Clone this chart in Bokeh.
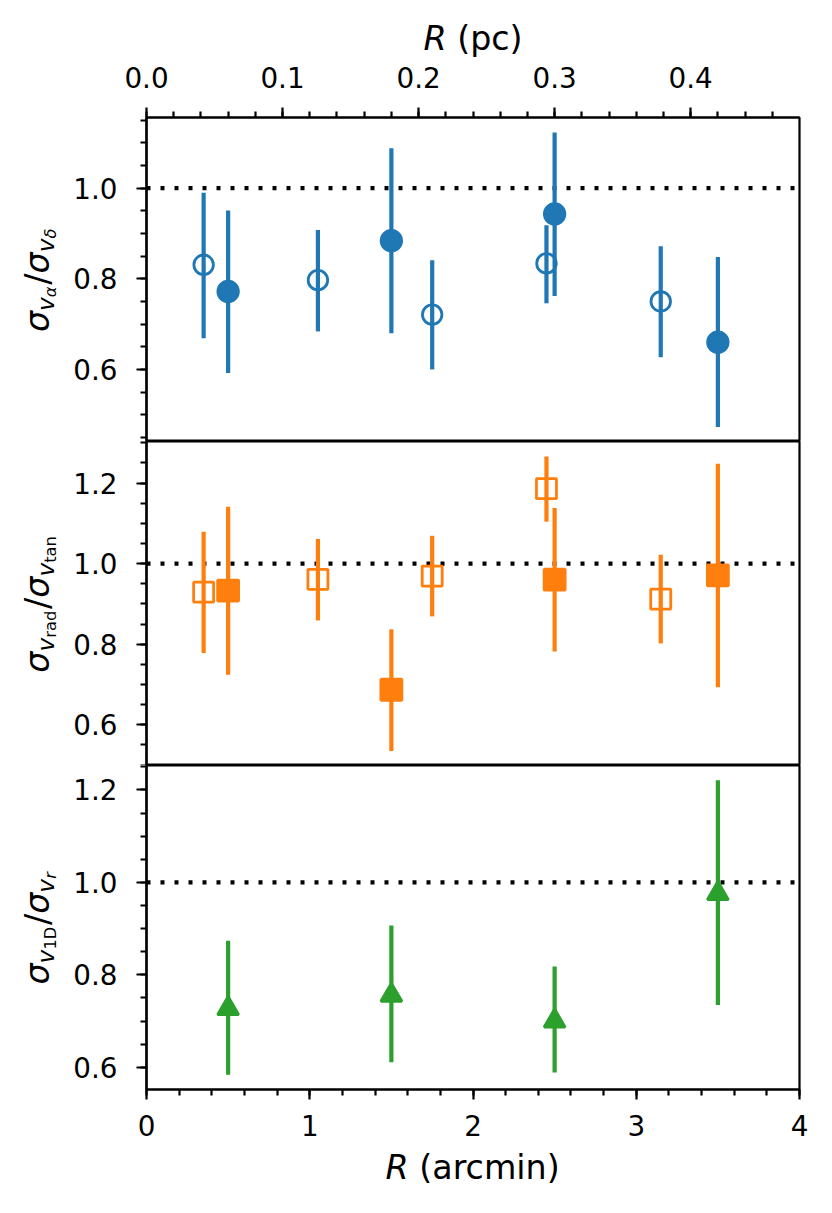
import math
from bokeh.plotting import figure
from bokeh.models import (Range1d, LinearAxis, SingleIntervalTicker, Span,
                          PrintfTickFormatter)
from bokeh.core.properties import value
from bokeh.layouts import column, row
from bokeh.embed import file_html
from bokeh.resources import INLINE

# ---------------- data ----------------
r_open = [0.35, 1.05, 1.75, 2.45, 3.15]      # arcmin, open symbols
r_filled = [0.5, 1.5, 2.5, 3.5]              # arcmin, filled symbols

ad_open = [0.831, 0.797, 0.721, 0.834, 0.750]
ad_open_lo = [0.669, 0.684, 0.600, 0.746, 0.627]
ad_open_hi = [0.990, 0.908, 0.841, 0.918, 0.872]
ad_filled = [0.772, 0.884, 0.943, 0.660]
ad_filled_lo = [0.592, 0.680, 0.762, 0.473]
ad_filled_hi = [0.951, 1.088, 1.123, 0.848]

rt_open = [0.929, 0.961, 0.969, 1.186, 0.912]
rt_open_lo = [0.778, 0.859, 0.869, 1.104, 0.802]
rt_open_hi = [1.079, 1.061, 1.069, 1.266, 1.022]
rt_filled = [0.933, 0.687, 0.960, 0.971]
rt_filled_lo = [0.724, 0.535, 0.782, 0.693]
rt_filled_hi = [1.141, 0.837, 1.138, 1.248]

oned = [0.727, 0.756, 0.700, 0.976]
oned_lo = [0.584, 0.611, 0.589, 0.735]
oned_hi = [0.874, 0.907, 0.818, 1.221]

x_range_arcmin = (0.0, 4.0)
pc_per_arcmin = 0.12
y_range_1 = (0.441, 1.156)
y_range_2 = (0.499, 1.303)
y_range_3 = (0.552, 1.253)

# ---------------- style / layout ----------------
BLUE, ORANGE, GREEN = "#1f77b4", "#ff7f0e", "#2ca02c"
FONT = "DejaVu Sans"
FW, FH = 653, 324
LW_LAB = 70          # left label strip width
BL = 75              # left border of the panels (axis + ticks)
BR = 20
TOP_H = 58           # strip with the top axis title
P1_TOP = 59
P3_BOT = 60
BOT_H = 50
TICK_FS = "27.8px"
L, S, SS = 33.3, 23.3, 16.3
ELW = 4.2
SPINE = 2.2
MID = 0.346          # (ascent - descent)/2 of DejaVu Sans, in em

TOTAL_H = TOP_H + P1_TOP + 3 * FH + P3_BOT + BOT_H
PPU_X = FW / (x_range_arcmin[1] - x_range_arcmin[0])

# DejaVu Sans advance widths (em)
ADV = {"σ": 0.635, "v": 0.592, "α": 0.659, "δ": 0.612, "/": 0.337, "r": 0.411,
       "a": 0.613, "d": 0.635, "t": 0.392, "n": 0.634, "1": 0.636, "D": 0.770,
       "R": 0.695, " ": 0.318, "(": 0.390, ")": 0.390, "p": 0.635, "c": 0.550,
       "m": 0.974, "i": 0.278}


def tw(s, size):
    return sum(ADV.get(ch, 0.6) for ch in s) * size


def style_axis(ax, standoff):
    ax.axis_line_width = SPINE
    ax.axis_line_color = "black"
    ax.major_tick_line_width = SPINE
    ax.minor_tick_line_width = SPINE
    ax.major_tick_line_color = "black"
    ax.minor_tick_line_color = "black"
    ax.major_tick_out = 10
    ax.major_tick_in = 0
    ax.minor_tick_out = 6
    ax.minor_tick_in = 0
    ax.major_label_text_font = FONT
    ax.major_label_text_font_size = TICK_FS
    ax.major_label_text_color = "black"
    ax.major_label_standoff = standoff


def make_fig(yr, top, bottom):
    p = figure(frame_width=FW, frame_height=FH,
               x_range=Range1d(*x_range_arcmin), y_range=Range1d(*yr),
               x_axis_location=None, y_axis_location=None,
               toolbar_location=None, output_backend="svg",
               min_border_left=BL, min_border_right=BR,
               min_border_top=top, min_border_bottom=bottom,
               background_fill_color="white", border_fill_color="white",
               outline_line_color="black", outline_line_width=SPINE)
    p.grid.visible = False
    yax = LinearAxis(ticker=SingleIntervalTicker(interval=0.2, num_minor_ticks=4),
                     formatter=PrintfTickFormatter(format="%.1f"))
    style_axis(yax, 19)
    p.add_layout(yax, "left")
    p.add_layout(Span(location=1.0, dimension="width", line_color="black",
                      line_width=ELW, line_dash="4 10", level="underlay"))
    return p


def hstrip(h):
    # same borders as the panels, so the column keeps frames aligned
    f = figure(frame_width=FW, frame_height=h,
               x_range=Range1d(*x_range_arcmin), y_range=Range1d(0, h),
               x_axis_location=None, y_axis_location=None, toolbar_location=None,
               output_backend="svg", min_border_left=BL, min_border_right=BR,
               min_border_top=0, min_border_bottom=0, outline_line_color=None,
               background_fill_color="white", border_fill_color="white")
    f.grid.visible = False
    return f


def put(f, x, y, txt, size, ital, angle=0.0):
    f.text(x=[x], y=[y], text=[txt], angle=angle, text_font=value(FONT),
           text_font_size=value(f"{size}px"),
           text_font_style="italic" if ital else "normal",
           text_align="left", text_baseline="middle", text_color="black")


# ---------------- panel 1 ----------------
p1 = make_fig(y_range_1, P1_TOP, 0)
p1.extra_x_ranges = {"pc": Range1d(x_range_arcmin[0] * pc_per_arcmin,
                                   x_range_arcmin[1] * pc_per_arcmin)}
top_ax = LinearAxis(x_range_name="pc",
                    ticker=SingleIntervalTicker(interval=0.1, num_minor_ticks=5),
                    formatter=PrintfTickFormatter(format="%.1f"))
style_axis(top_ax, 20)
p1.add_layout(top_ax, "above")

p1.segment(x0=r_open, y0=ad_open_lo, x1=r_open, y1=ad_open_hi, line_color=BLUE, line_width=ELW)
p1.segment(x0=r_filled, y0=ad_filled_lo, x1=r_filled, y1=ad_filled_hi, line_color=BLUE, line_width=ELW)
p1.scatter(x=r_open, y=ad_open, marker="circle", size=19.5, fill_color=None,
           line_color=BLUE, line_width=2.8)
p1.scatter(x=r_filled, y=ad_filled, marker="circle", size=20.5, fill_color=BLUE,
           line_color=BLUE, line_width=2.8)

# ---------------- panel 2 ----------------
p2 = make_fig(y_range_2, 0, 0)
p2.segment(x0=r_open, y0=rt_open_lo, x1=r_open, y1=rt_open_hi, line_color=ORANGE, line_width=ELW)
p2.segment(x0=r_filled, y0=rt_filled_lo, x1=r_filled, y1=rt_filled_hi, line_color=ORANGE, line_width=ELW)
p2.scatter(x=r_open, y=rt_open, marker="square", size=20, fill_color=None,
           line_color=ORANGE, line_width=2.8)
p2.scatter(x=r_filled, y=rt_filled, marker="square", size=21, fill_color=ORANGE,
           line_color=ORANGE, line_width=2.8)

# ---------------- panel 3 ----------------
p3 = make_fig(y_range_3, 0, P3_BOT)
bot_ax = LinearAxis(ticker=SingleIntervalTicker(interval=1, num_minor_ticks=5))
style_axis(bot_ax, 15)
p3.add_layout(bot_ax, "below")
p3.segment(x0=r_filled, y0=oned_lo, x1=r_filled, y1=oned_hi, line_color=GREEN, line_width=ELW)
p3.scatter(x=r_filled, y=oned, marker="triangle", size=21, fill_color=GREEN,
           line_color=GREEN, line_width=2.8)

# ---------------- axis titles ----------------
top_strip = hstrip(TOP_H)
bot_strip = hstrip(BOT_H)


def xtitle(f, unit, baseline_from_bottom):
    total = tw("R ", L) + tw(unit, L)
    x0 = FW / 2 - total / 2
    yc = baseline_from_bottom + MID * L
    put(f, x_range_arcmin[0] + x0 / PPU_X, yc, "R", L, True)
    put(f, x_range_arcmin[0] + (x0 + tw("R ", L)) / PPU_X, yc, unit, L, False)


xtitle(top_strip, "(pc)", TOP_H - 50.0)
xtitle(bot_strip, "(arcmin)", BOT_H - (1178.6 - (TOP_H + P1_TOP + 3 * FH + P3_BOT)))

left_strip = figure(width=LW_LAB, height=TOTAL_H, x_range=Range1d(0, LW_LAB),
                    y_range=Range1d(0, TOTAL_H), x_axis_location=None,
                    y_axis_location=None, toolbar_location=None, output_backend="svg",
                    min_border=0, outline_line_color=None,
                    background_fill_color="white", border_fill_color="white")
left_strip.grid.visible = False
BASE_X = 48.5
SUB, SUBSUB = 5, 7


def ytitle(center_from_top, pieces):
    total = sum(tw(t, s) + g for t, s, i, sh, g in pieces)
    d = (TOTAL_H - center_from_top) - total / 2
    for t, s, i, sh, g in pieces:
        put(left_strip, BASE_X + sh - MID * s, d, t, s, i, angle=math.pi / 2)
        d += tw(t, s) + g


panel_top = TOP_H + P1_TOP
ytitle(panel_top + FH / 2,
       [("σ", L, True, 0, 0), ("v", S, True, SUB, 0), ("α", SS, True, SUBSUB, 1.7),
        ("/", L, False, 0, 0),
        ("σ", L, True, 0, 0), ("v", S, True, SUB, 0), ("δ", SS, True, SUBSUB, 1.7)])
ytitle(panel_top + FH * 1.5,
       [("σ", L, True, 0, 0), ("v", S, True, SUB, 0), ("rad", SS, False, SUBSUB, 1.7),
        ("/", L, False, 0, 0),
        ("σ", L, True, 0, 0), ("v", S, True, SUB, 0), ("tan", SS, False, SUBSUB, 1.7)])
ytitle(panel_top + FH * 2.5,
       [("σ", L, True, 0, 0), ("v", S, True, SUB, 0), ("1D", SS, False, SUBSUB, 1.7),
        ("/", L, False, 0, 0),
        ("σ", L, True, 0, 0), ("v", S, True, SUB, 0), ("r", SS, True, SUBSUB, 1.7)])

layout = row(left_strip, column(top_strip, p1, p2, p3, bot_strip, spacing=0), spacing=0)
open("out.html", "w").write(file_html(layout, INLINE))
